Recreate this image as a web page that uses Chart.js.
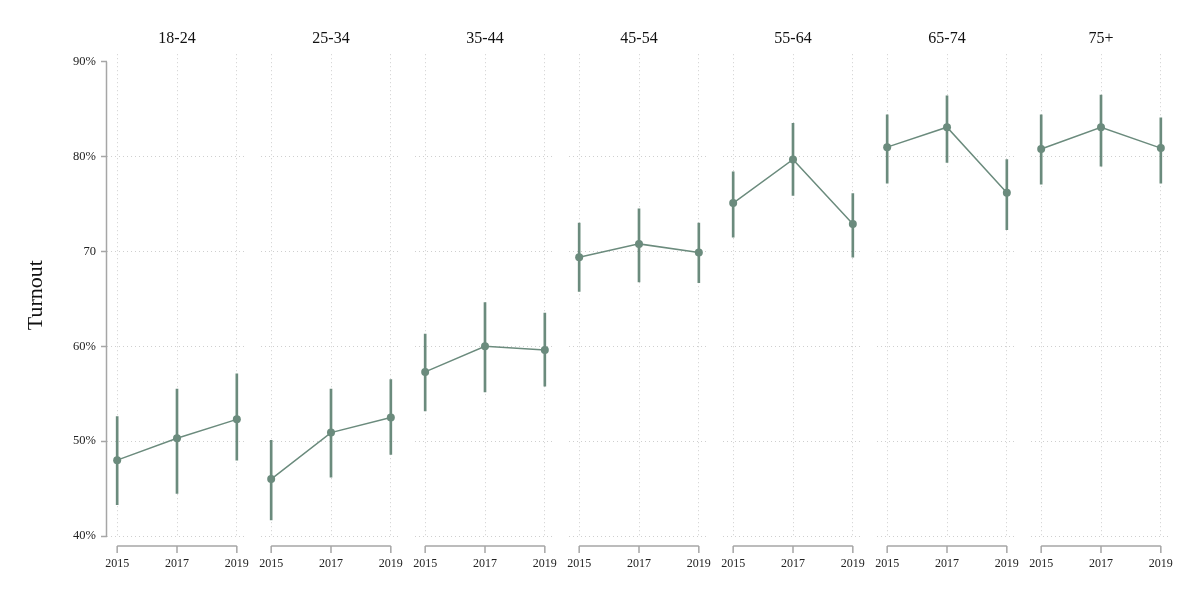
<!DOCTYPE html>
<html>
<head>
<meta charset="utf-8">
<script src="https://cdn.jsdelivr.net/npm/chart.js@4/dist/chart.umd.min.js"></script>
<style>
  html, body { margin: 0; padding: 0; background: #fff; }
  #wrap { position: relative; width: 1200px; height: 600px; overflow: hidden; background: #fff; }
  #wrap canvas { position: absolute; }
</style>
</head>
<body>
<div id="wrap"></div>
<script>
// turnout by age group, general elections 2015 / 2017 / 2019
var ageGroups = ['18-24', '25-34', '35-44', '45-54', '55-64', '65-74', '75+'];
var years = [2015, 2017, 2019];

var turnout = [
    [48.0, 50.3, 52.3],
    [46.0, 50.9, 52.5],
    [57.3, 60.0, 59.6],
    [69.4, 70.8, 69.9],
    [75.1, 79.7, 72.9],
    [81.0, 83.1, 76.2],
    [80.8, 83.1, 80.9]
];
var ciLow = [
    [43.3, 44.5, 48.0],
    [41.7, 46.2, 48.6],
    [53.2, 55.2, 55.8],
    [65.8, 66.8, 66.7],
    [71.5, 75.9, 69.4],
    [77.2, 79.4, 72.3],
    [77.1, 79.0, 77.2]
];
var ciHigh = [
    [52.6, 55.5, 57.1],
    [50.1, 55.5, 56.5],
    [61.3, 64.6, 63.5],
    [73.0, 74.5, 73.0],
    [78.4, 83.5, 76.1],
    [84.4, 86.4, 79.7],
    [84.4, 86.5, 84.1]
];

var yTicks = [40, 50, 60, 70, 80, 90];
var yTickLabels = ['40%', '50%', '60%', '70', '80%', '90%'];

var GREEN = '#6b8b7d';
var GRID = '#cfcfcf';
var AXIS = '#a6a6a6';
var SERIF = '"Liberation Serif", "DejaVu Serif", serif';

// axis lines: short bracket under each panel, y line from 40 to 90
var axisLines = {
    id: 'axisLines',
    afterDraw: function (chart) {
        var ctx = chart.ctx;
        var xs = chart.scales.x, ys = chart.scales.y;
        var ca = chart.chartArea;
        var by = ca.bottom + 10;
        ctx.save();
        ctx.strokeStyle = AXIS;
        ctx.lineWidth = 1.5;
        ctx.beginPath();
        ctx.moveTo(xs.getPixelForValue(years[0]), by);
        ctx.lineTo(xs.getPixelForValue(years[years.length - 1]), by);
        for (var i = 0; i < years.length; i++) {
            var px = xs.getPixelForValue(years[i]);
            ctx.moveTo(px, by);
            ctx.lineTo(px, by + 7);
        }
        if (chart.options.plugins.axisLines.yLine) {
            var lx = ca.left - 0.5;
            ctx.moveTo(lx, ys.getPixelForValue(yTicks[yTicks.length - 1]));
            ctx.lineTo(lx, ys.getPixelForValue(yTicks[0]));
        }
        ctx.stroke();
        ctx.restore();
    }
};

function zeroPad(scale) {
    scale.paddingLeft = 0;
    scale.paddingRight = 0;
    scale.paddingTop = 0;
    scale.paddingBottom = 0;
}

var wrap = document.getElementById('wrap');
var SIDE = 9;   // room either side of a panel for the year labels

for (var p = 0; p < ageGroups.length; p++) {
    var first = (p === 0);
    var panelLeft = 107 + p * 154;
    var left = first ? 0 : panelLeft - SIDE;
    var width = first ? 247 + SIDE : 140 + 2 * SIDE;

    var canvas = document.createElement('canvas');
    canvas.width = width;
    canvas.height = 562;
    canvas.style.left = left + 'px';
    canvas.style.top = '29px';
    wrap.appendChild(canvas);

    var points = [], bars = [];
    for (var k = 0; k < years.length; k++) {
        points.push({ x: years[k], y: turnout[p][k] });
        bars.push({ x: years[k], y: [ciLow[p][k], ciHigh[p][k]] });
    }

    new Chart(canvas.getContext('2d'), {
        type: 'line',
        data: {
            datasets: [{
                type: 'line',
                data: points,
                borderColor: GREEN,
                borderWidth: 1.5,
                pointRadius: 4,
                pointBorderWidth: 0,
                pointBackgroundColor: GREEN,
                fill: false,
                tension: 0,
                order: 0
            }, {
                type: 'bar',
                data: bars,
                backgroundColor: GREEN,
                borderWidth: 0,
                barThickness: 2,
                grouped: false,
                order: 1
            }]
        },
        options: {
            responsive: false,
            animation: false,
            devicePixelRatio: 1,
            layout: {
                padding: { left: first ? 0 : SIDE, right: SIDE, top: 0, bottom: 0 },
                autoPadding: false
            },
            plugins: {
                legend: { display: false },
                tooltip: { enabled: false },
                title: { display: false },
                axisLines: { yLine: first }
            },
            scales: {
                top: {
                    type: 'linear',
                    axis: 'x',
                    position: 'top',
                    min: 2014.66,
                    max: 2019.34,
                    offset: false,
                    ticks: { display: false },
                    grid: { display: false, drawTicks: false },
                    border: { display: false },
                    title: {
                        display: true,
                        text: ageGroups[p],
                        color: '#111',
                        font: { family: SERIF, size: 16 },
                        padding: { top: 0, bottom: 6 }
                    },
                    afterFit: zeroPad
                },
                x: {
                    type: 'linear',
                    position: 'bottom',
                    min: 2014.66,
                    max: 2019.34,
                    offset: false,
                    afterBuildTicks: function (scale) {
                        scale.ticks = years.map(function (v) { return { value: v }; });
                    },
                    ticks: {
                        padding: 21,
                        color: '#222',
                        font: { family: SERIF, size: 12 },
                        maxRotation: 0,
                        callback: function (v) { return String(v); }
                    },
                    grid: { color: GRID, lineWidth: 1, drawTicks: false, offset: false },
                    border: { display: false, dash: [1, 3] },
                    afterFit: function (scale) {
                        zeroPad(scale);
                        scale.height = 55;
                    }
                },
                y: {
                    type: 'linear',
                    position: 'left',
                    min: 40,
                    max: 90.8,
                    afterBuildTicks: function (scale) {
                        scale.ticks = yTicks.map(function (v) { return { value: v }; });
                    },
                    ticks: {
                        display: first,
                        padding: 5,
                        color: '#222',
                        font: { family: SERIF, size: 12.5 },
                        callback: function (v) { return yTickLabels[yTicks.indexOf(v)]; }
                    },
                    grid: {
                        color: function (c) {
                            return (c.tick && c.tick.value === 90) ? 'rgba(0,0,0,0)' : GRID;
                        },
                        lineWidth: 1,
                        drawTicks: first,
                        tickLength: 6,
                        tickColor: AXIS,
                        tickWidth: 1.5,
                        tickBorderDash: []
                    },
                    border: { display: false, dash: [1, 3] },
                    title: {
                        display: first,
                        text: 'Turnout',
                        color: '#111',
                        font: { family: SERIF, size: 22 },
                        padding: { top: 23, bottom: 0 }
                    },
                    afterFit: (function (isFirst) {
                        return function (scale) {
                            zeroPad(scale);
                            scale.width = isFirst ? 107 : 0;
                        };
                    })(first)
                }
            }
        },
        plugins: [axisLines]
    });
}
</script>
</body>
</html>
